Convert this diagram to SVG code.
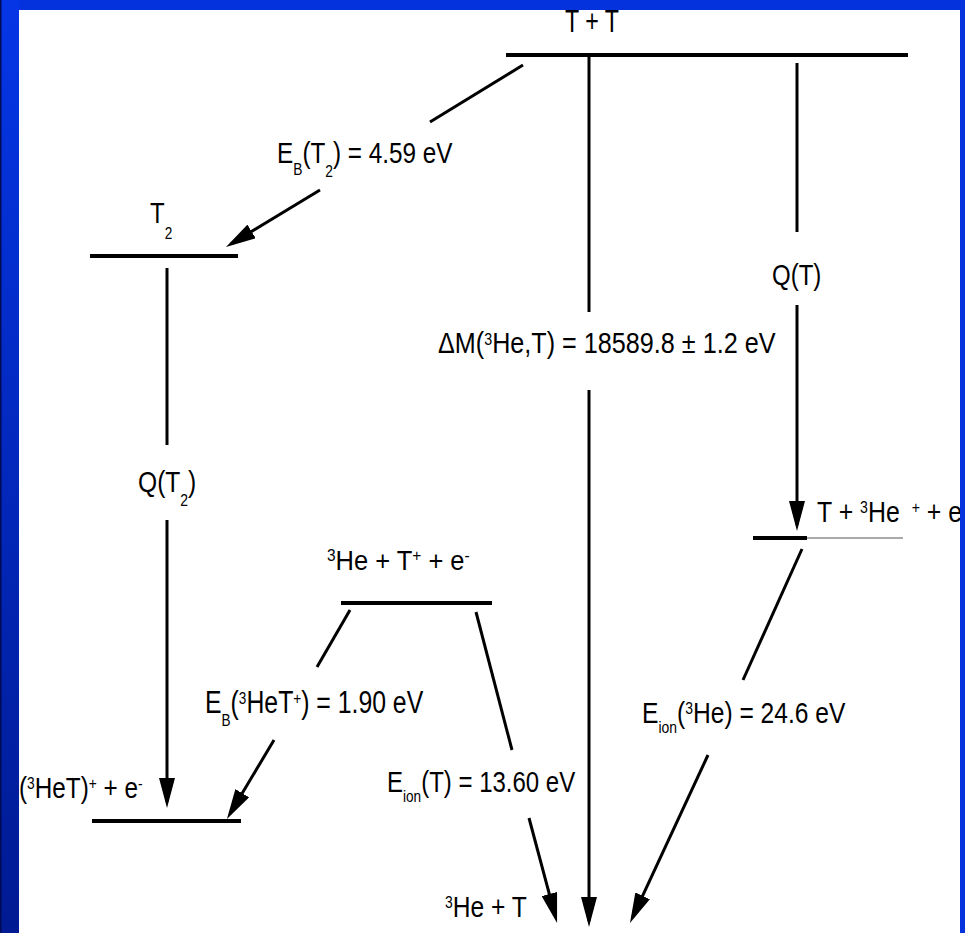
<svg xmlns="http://www.w3.org/2000/svg" width="965" height="933" viewBox="0 0 965 933">
<style>
.t{font-family:"Liberation Sans",Arial,sans-serif;font-size:30px;fill:#000;white-space:pre}
.s{font-size:17px}
.lvl{stroke:#000;stroke-width:4;fill:none}
.cn{stroke:#000;stroke-width:3;fill:none}
.arr{marker-end:url(#ah)}
</style>
<defs>
<marker id="ah" viewBox="0 0 30 16" markerWidth="30" markerHeight="16" refX="24" refY="8" orient="auto" markerUnits="userSpaceOnUse"><path d="M0,0 L30,8 L0,16 z" fill="#000"/></marker>
<linearGradient id="lb" x1="0" y1="0" x2="0" y2="1"><stop offset="0" stop-color="#0536e6"/><stop offset="1" stop-color="#001a92"/></linearGradient>
</defs>
<rect x="0" y="0" width="965" height="933" fill="#fff"/>
<g id="n-TT"><line class="lvl" x1="506" y1="55" x2="908" y2="55"/><text class="t" style="font-size:31px" transform="translate(565,32) scale(0.75,1)">T + T</text></g>
<g id="n-T2"><line class="lvl" x1="90" y1="256" x2="238" y2="256"/><text class="t" transform="translate(150,223) scale(0.8,1)">T<tspan class="s" dy="16">2</tspan></text></g>
<g id="n-HeT-ion"><line class="lvl" x1="92" y1="821" x2="241" y2="821"/><text class="t" transform="translate(19,798) scale(0.81,1)">(<tspan class="s" dy="-9">3</tspan><tspan dy="9">HeT)</tspan><tspan class="s" dy="-9">+</tspan><tspan dy="9"> + e</tspan><tspan class="s" dy="-9">-</tspan></text></g>
<g id="n-He-Tp-e"><line class="lvl" x1="341" y1="603" x2="492" y2="603"/><text class="t" style="font-size:28px" transform="translate(327,570) scale(0.91,1)"><tspan class="s" dy="-9">3</tspan><tspan dy="9">He + T</tspan><tspan class="s" dy="-9">+</tspan><tspan dy="9"> + e</tspan><tspan class="s" dy="-9">-</tspan></text></g>
<g id="n-T-Hep-e"><line class="lvl" x1="753" y1="538" x2="807" y2="538"/><line x1="807" y1="538" x2="903" y2="538" stroke="#555" stroke-width="1"/><text class="t" transform="translate(817,522) scale(0.83,1)">T + <tspan class="s" dy="-9">3</tspan><tspan dy="9">He </tspan><tspan class="s" dy="-9" dx="6">+</tspan><tspan dy="9"> + e</tspan><tspan class="s" dy="-9">-</tspan></text></g>
<g id="n-He-T"><text class="t" transform="translate(445,917) scale(0.82,1)"><tspan class="s" dy="-9">3</tspan><tspan dy="9">He + T</tspan></text></g>
<g id="connectors">
<line class="cn" x1="523" y1="65" x2="430" y2="122"/>
<line class="cn arr" x1="320" y1="190" x2="231.1" y2="243.9"/>
<line class="cn" x1="167" y1="268" x2="167" y2="445"/>
<line class="cn arr" x1="167" y1="520" x2="167" y2="802"/>
<line class="cn" x1="589" y1="55" x2="589" y2="312"/>
<line class="cn arr" x1="589" y1="390" x2="589" y2="921"/>
<line class="cn" x1="797" y1="63" x2="797" y2="232"/>
<line class="cn arr" x1="797" y1="305" x2="797" y2="525"/>
<line class="cn" x1="802" y1="549" x2="743" y2="680"/>
<line class="cn arr" x1="708" y1="755" x2="632.5" y2="917.6"/>
<line class="cn" x1="350" y1="610" x2="317" y2="667"/>
<line class="cn arr" x1="274" y1="740" x2="230" y2="813.8"/>
<line class="cn" x1="476" y1="612" x2="512" y2="750"/>
<line class="cn arr" x1="529" y1="818" x2="555.5" y2="917.2"/>
</g>
<g id="labels">
<text class="t" transform="translate(277,163) scale(0.81,1)">E<tspan class="s" dy="12">B</tspan><tspan dy="-12">(T</tspan><tspan class="s" dy="14">2</tspan><tspan dy="-14">) = 4.59 eV</tspan></text>
<text class="t" transform="translate(438,353) scale(0.84,1)">ΔM(<tspan class="s" dy="-8">3</tspan><tspan dy="8">He,T) = 18589.8 ± 1.2 eV</tspan></text>
<text class="t" transform="translate(772,285) scale(0.8,1)">Q(T)</text>
<text class="t" transform="translate(138,492) scale(0.82,1)">Q(T<tspan class="s" dy="14">2</tspan><tspan dy="-14">)</tspan></text>
<text class="t" style="font-size:31px" transform="translate(205,713) scale(0.8,1)">E<tspan class="s" dy="13">B</tspan><tspan dy="-13">(</tspan><tspan class="s" dy="-9">3</tspan><tspan dy="9">HeT</tspan><tspan class="s" dy="-9">+</tspan><tspan dy="9">) = 1.90 eV</tspan></text>
<text class="t" transform="translate(387,792) scale(0.8,1)">E<tspan class="s" dy="10">ion</tspan><tspan dy="-10">(T) = 13.60 eV</tspan></text>
<text class="t" transform="translate(642,723) scale(0.82,1)">E<tspan class="s" dy="10">ion</tspan><tspan dy="-10">(</tspan><tspan class="s" dy="-9">3</tspan><tspan dy="9">He) = 24.6 eV</tspan></text>
</g>
<g id="frame">
<rect x="0" y="0" width="965" height="10" fill="#0432dc"/>
<rect x="0" y="0" width="19" height="933" fill="url(#lb)"/>
<rect x="0" y="0" width="1.5" height="933" fill="#000a55"/>
<rect x="960" y="0" width="5" height="933" fill="#0432dc"/>
</g>
</svg>
